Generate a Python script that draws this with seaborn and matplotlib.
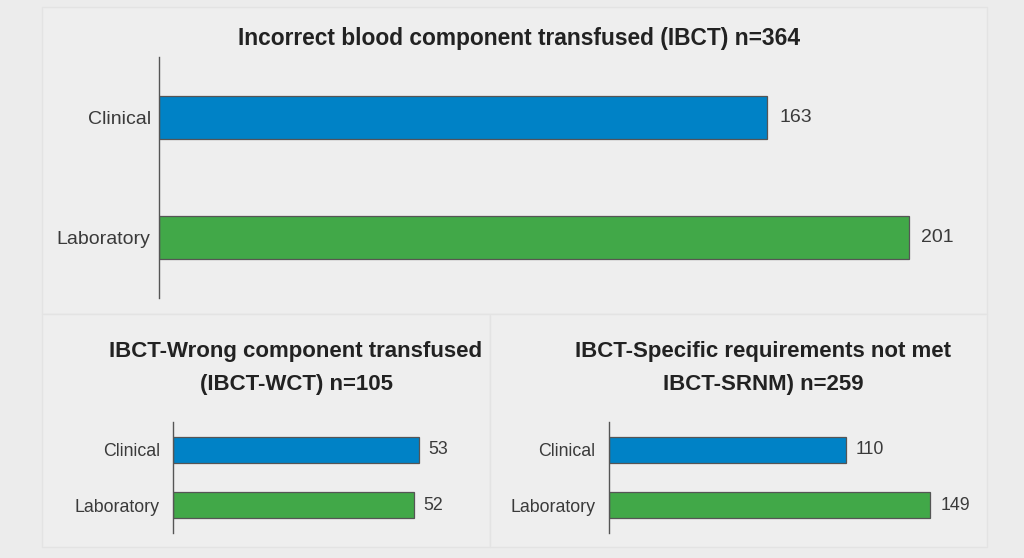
import matplotlib
matplotlib.use("Agg")
import matplotlib.pyplot as plt
from matplotlib.patches import Rectangle
import seaborn as sns

# data
categories = ["Clinical", "Laboratory"]
ibct_all = [163, 201]
ibct_wct = [53, 52]
ibct_srnm = [110, 149]

title_all = "Incorrect blood component transfused (IBCT) n=364"
title_wct = "IBCT-Wrong component transfused\n(IBCT-WCT) n=105"
title_srnm = "IBCT-Specific requirements not met\nIBCT-SRNM) n=259"

BLUE = "#0082c6"
GREEN = "#41a848"
TEXT = "#3a3a3a"
BG = "#ececec"
PANEL = "#eeeeee"

sns.set_theme(style="white")
plt.rcParams["font.family"] = ["Liberation Sans", "DejaVu Sans"]


def draw_bars(ax, values, width, xmax, fs, pad, tick_pad):
    sns.barplot(x=values, y=categories, hue=categories, palette=[BLUE, GREEN],
                orient="h", width=width, saturation=1, edgecolor="#555555",
                linewidth=0.9, legend=False, ax=ax)
    ax.set_facecolor("none")
    ax.set_xlim(0, xmax)
    ax.set_ylim(1.5, -0.5)
    ax.set_xlabel("")
    ax.set_ylabel("")
    ax.set_xticks([])
    for s in ["top", "right", "bottom"]:
        ax.spines[s].set_visible(False)
    ax.spines["left"].set_color("#555555")
    ax.spines["left"].set_linewidth(1.0)
    ax.tick_params(axis="y", length=0, pad=tick_pad, labelsize=fs, labelcolor=TEXT)
    for c in ax.containers:
        ax.bar_label(c, padding=pad, fontsize=fs, color=TEXT)


fig = plt.figure(figsize=(10.24, 5.58), dpi=100, facecolor=BG)

# panel boxes
W, H = 1024, 558
for x0, y0, x1, y1 in [(42, 7, 987, 314), (42, 314, 490, 547), (490, 314, 987, 547)]:
    fig.patches.append(Rectangle((x0 / W, 1 - y1 / H), (x1 - x0) / W, (y1 - y0) / H,
                                 transform=fig.transFigure, facecolor=PANEL,
                                 edgecolor="#e3e3e3", linewidth=1.0, zorder=-10))

ax_top = fig.add_axes([159 / W, 1 - 298 / H, (987 - 159) / W, 241 / H])
draw_bars(ax_top, ibct_all, 0.36, 222, 14, 9, 6)

ax_bl = fig.add_axes([173 / W, 1 - 533 / H, 297 / W, 111 / H])
draw_bars(ax_bl, ibct_wct, 0.46, 64.1, 12.8, 7, 9.5)

ax_br = fig.add_axes([608.7 / W, 1 - 533 / H, 366 / W, 111 / H])
draw_bars(ax_br, ibct_srnm, 0.46, 169.5, 12.8, 7, 9.5)

fig.text(519 / W, 1 - 38 / H, title_all, ha="center", va="center",
         fontsize=16.4, fontweight="bold", color="#222222")
fig.text(296 / W, 1 - 368 / H, title_wct, ha="center", va="center",
         fontsize=16, fontweight="bold", color="#222222", linespacing=1.75)
fig.text(763 / W, 1 - 368 / H, title_srnm, ha="center", va="center",
         fontsize=16, fontweight="bold", color="#222222", linespacing=1.75)

fig.savefig("out.png", dpi=100, facecolor=BG)
